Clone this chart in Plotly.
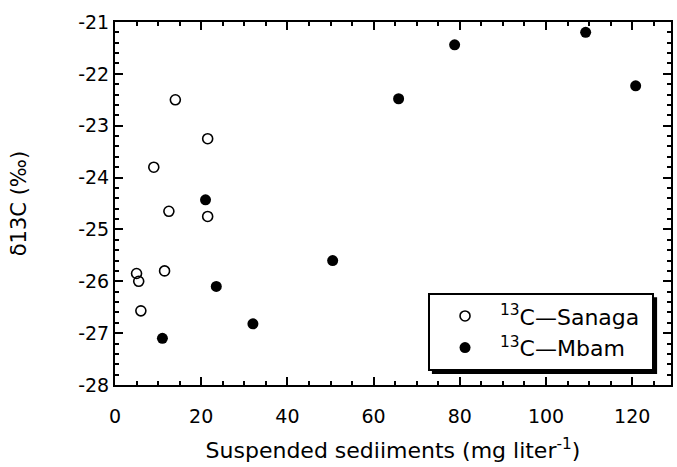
import plotly.graph_objects as go

# Data
sanaga_x = [14, 21.5, 9, 12.5, 21.5, 5, 5.5, 11.5, 6]
sanaga_y = [-22.5, -23.25, -23.8, -24.65, -24.75, -25.85, -26.0, -25.8, -26.57]

mbam_x = [21, 11, 23.5, 32, 50.5, 65.8, 78.8, 109.2, 120.8]
mbam_y = [-24.43, -27.1, -26.1, -26.82, -25.6, -22.48, -21.44, -21.2, -22.23]

x_ticks = [0, 20, 40, 60, 80, 100, 120]
x_labels = ["0", "20", "40", "60", "80", "100", "120"]
y_ticks = [-28, -27, -26, -25, -24, -23, -22, -21]
y_labels = ["-28", "-27", "-26", "-25", "-24", "-23", "-22", "-21"]

FONT = "DejaVu Sans, Arial, sans-serif"

fig = go.Figure()
fig.add_trace(go.Scatter(
    x=sanaga_x, y=sanaga_y, mode="markers",
    name="<sup>13</sup>C\u2014Sanaga\u00a0",
    marker=dict(symbol="circle-open", size=10, color="black", line=dict(width=1.6, color="black")),
))
fig.add_trace(go.Scatter(
    x=mbam_x, y=mbam_y, mode="markers",
    name="<sup>13</sup>C\u2014Mbam",
    marker=dict(symbol="circle", size=11, color="black"),
))

axis_common = dict(
    showline=True, linecolor="black", linewidth=2, mirror="allticks",
    ticks="inside", ticklen=8, tickwidth=2, tickcolor="black",
    showgrid=False, zeroline=False,
    tickfont=dict(family=FONT, size=19, color="black"),
)

fig.update_xaxes(
    range=[0, 129], tickvals=x_ticks, ticktext=x_labels,
    minor=dict(dtick=5, ticks="inside", ticklen=4, tickwidth=1.5, tickcolor="black"),
    ticklabelstandoff=13,
    title=dict(text="Suspended sediiments (mg liter<sup>-1</sup>)",
               font=dict(family=FONT, size=22, color="black"), standoff=17),
    **axis_common,
)
fig.update_yaxes(
    range=[-28, -21], tickvals=y_ticks, ticktext=y_labels,
    minor=dict(dtick=0.2, ticks="inside", ticklen=4, tickwidth=1.5, tickcolor="black"),
    title=dict(text="\u03b413C (\u2030)",
               font=dict(family=FONT, size=21, color="black"), standoff=46),
    **axis_common,
)

# drop shadow behind the legend box
fig.add_shape(type="rect", xref="paper", yref="paper",
              x0=0.570, x1=0.975, y0=0.030, y1=0.242,
              fillcolor="black", line=dict(width=0), layer="above")

fig.update_layout(
    width=677, height=467,
    margin=dict(l=115, r=4, t=22, b=82),
    paper_bgcolor="white", plot_bgcolor="white",
    font=dict(family=FONT, color="black"),
    legend=dict(
        x=0.563, y=0.253, xanchor="left", yanchor="top",
        bgcolor="white", bordercolor="black", borderwidth=2,
        font=dict(family=FONT, size=22, color="black"),
        itemwidth=60, tracegroupgap=0,
    ),
)

fig.write_html("out.html", config={"displayModeBar": False},
               post_script="document.body.style.margin='0';")
